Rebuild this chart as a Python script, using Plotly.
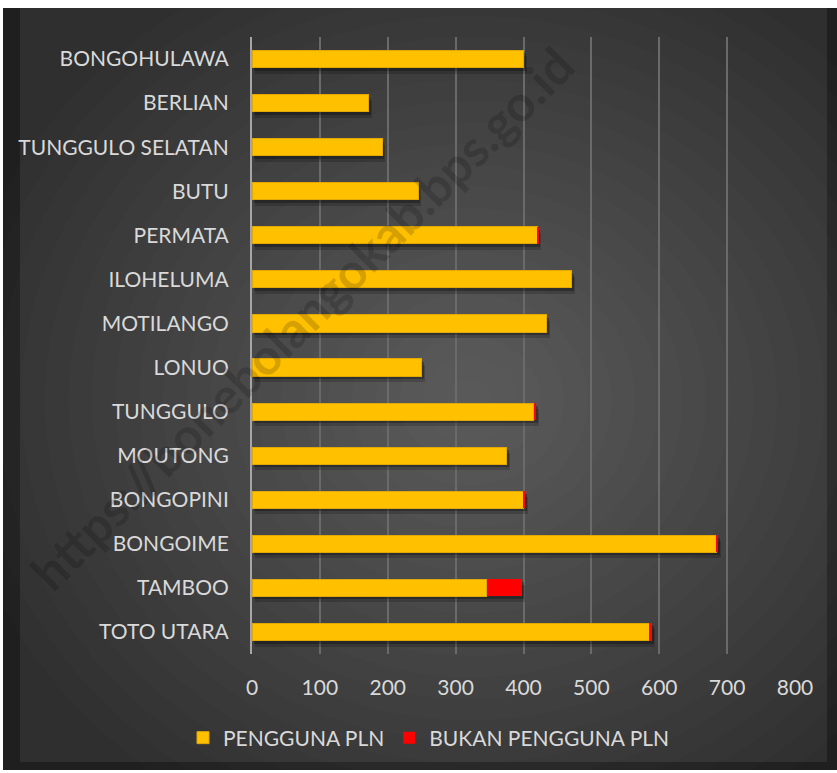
import plotly.graph_objects as go

categories = ["BONGOHULAWA", "BERLIAN", "TUNGGULO SELATAN", "BUTU", "PERMATA",
              "ILOHELUMA", "MOTILANGO", "LONUO", "TUNGGULO", "MOUTONG",
              "BONGOPINI", "BONGOIME", "TAMBOO", "TOTO UTARA"]
pengguna_pln = [400, 172, 192, 245, 420, 471, 434, 250, 415, 375, 400, 685, 346, 585]
bukan_pengguna_pln = [0, 0, 0, 0, 2, 0, 0, 0, 4, 0, 2, 2, 52, 5]
x_ticks = [0, 100, 200, 300, 400, 500, 600, 700, 800]

W, H = 837, 773
ML, MR, MT, MB = 252, 42, 37, 119
PW, PH = W - ML - MR, H - MT - MB
XMAX = 800
NC = len(categories)


def px(x):
    return (x - ML) / PW


def py(y):
    return (H - MB - y) / PH


font = "Lato, 'Open Sans', sans-serif"
txt = "#d9d9d9"
FS = 21

fig = go.Figure()
# base (visible axes)
fig.add_trace(go.Bar(y=categories, x=pengguna_pln, orientation="h", name="PENGGUNA PLN",
                     marker=dict(color="#FFC000", line=dict(color="#E0A800", width=1))))
fig.add_trace(go.Bar(y=categories, x=bukan_pengguna_pln, orientation="h", name="BUKAN PENGGUNA PLN",
                     marker=dict(color="#FF0000", line=dict(width=0))))
# soft shadow (shifted overlay axes)
tot = [a + b for a, b in zip(pengguna_pln, bukan_pengguna_pln)]
for ax, alpha in (("2", 0.18), ("3", 0.28)):
    fig.add_trace(go.Bar(y=categories, x=tot, orientation="h", showlegend=False, hoverinfo="skip",
                         marker=dict(color=f"rgba(0,0,0,{alpha})", line=dict(width=0)),
                         xaxis="x" + ax, yaxis="y" + ax))
# bars on top of shadow
fig.add_trace(go.Bar(y=categories, x=pengguna_pln, orientation="h", showlegend=False,
                     marker=dict(color="#FFC000", line=dict(color="#E0A800", width=1)),
                     xaxis="x4", yaxis="y4"))
fig.add_trace(go.Bar(y=categories, x=bukan_pengguna_pln, orientation="h", showlegend=False,
                     marker=dict(color="#FF0000", line=dict(width=0)),
                     xaxis="x4", yaxis="y4"))

ux = XMAX / PW          # data units per pixel
uy = NC / PH            # category units per pixel
shifts = {"2": (3, 6), "3": (2, 3), "4": (0, 0)}
for ax, (dx, dy) in shifts.items():
    fig.update_layout(**{
        "xaxis" + ax: dict(overlaying="x", range=[-dx * ux, XMAX - dx * ux], visible=False,
                           showgrid=False, zeroline=False),
        "yaxis" + ax: dict(overlaying="y", range=[NC - 0.5 - dy * uy, -0.5 - dy * uy], visible=False,
                           showgrid=False, zeroline=False, type="category",
                           categoryarray=categories),
    })

shapes = [dict(type="rect", xref="paper", yref="paper", x0=px(3), x1=px(837), y0=py(770), y1=py(8),
               fillcolor="#1f1f1f", line=dict(width=0), layer="below"),
          dict(type="rect", xref="paper", yref="paper", x0=px(20), x1=px(827), y0=py(762), y1=py(8),
               fillcolor="#2f2f2f", line=dict(width=0), layer="below")]
n = 22
cx, cy = 470, 400
for i in range(n):
    f = 1 - i / n
    rx, ry = 520 * f, 470 * f
    shapes.append(dict(type="circle", xref="paper", yref="paper",
                       x0=px(cx - rx), x1=px(cx + rx), y0=py(cy + ry), y1=py(cy - ry),
                       fillcolor="rgba(255,255,255,0.012)", line=dict(width=0), layer="below"))
# keep white outside the frame
shapes += [dict(type="rect", xref="paper", yref="paper", x0=px(-200), x1=px(3), y0=py(1000), y1=py(-200),
                fillcolor="white", line=dict(width=0), layer="below"),
           dict(type="rect", xref="paper", yref="paper", x0=px(-200), x1=px(1100), y0=py(8), y1=py(-200),
                fillcolor="white", line=dict(width=0), layer="below"),
           dict(type="rect", xref="paper", yref="paper", x0=px(-200), x1=px(1100), y0=py(1000), y1=py(770),
                fillcolor="white", line=dict(width=0), layer="below")]

fig.update_layout(
    width=W, height=H,
    margin=dict(l=ML, r=MR, t=MT, b=MB),
    paper_bgcolor="white", plot_bgcolor="rgba(0,0,0,0)",
    barmode="stack", bargap=0.61,
    font=dict(family=font, size=FS, color=txt),
    shapes=shapes,
    showlegend=True,
    legend=dict(orientation="h", x=px(429), xanchor="center",
                y=py(738), yanchor="middle", font=dict(size=FS, color=txt),
                bgcolor="rgba(0,0,0,0)", traceorder="normal"),
    xaxis=dict(range=[0, XMAX], tickvals=x_ticks, showgrid=True, gridcolor="#6a6a6a", gridwidth=1.5,
               zeroline=False, showline=False, ticks="", ticklabelstandoff=19,
               tickfont=dict(size=FS, color=txt), fixedrange=True),
    yaxis=dict(range=[NC - 0.5, -0.5], type="category", categoryarray=categories,
               showgrid=False, zeroline=False,
               showline=True, linecolor="#a6a6a6", linewidth=2, ticks="",
               ticklabelstandoff=17, tickfont=dict(size=FS, color=txt)),
    annotations=[dict(text="https://bonebolangokab.bps.go.id", xref="paper", yref="paper",
                      x=px(302), y=py(318), xanchor="center", yanchor="middle",
                      showarrow=False, textangle=-45,
                      font=dict(family=font, size=50, weight="bold", color="rgba(0,0,0,0.16)"))],
)

fig.write_html("out.html", config={"displayModeBar": False},
               post_script="document.body.style.margin='0px';")
